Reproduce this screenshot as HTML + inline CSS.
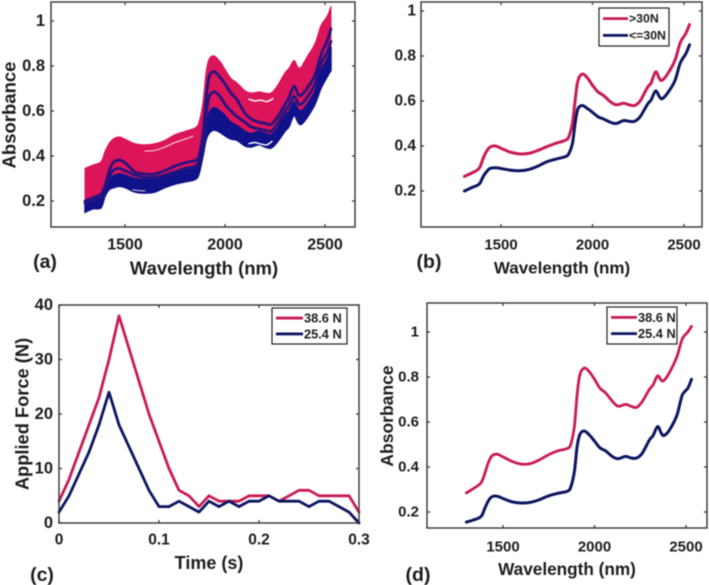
<!DOCTYPE html>
<html>
<head>
<meta charset="utf-8">
<style>
html,body{margin:0;padding:0;background:#fff;width:709px;height:585px;overflow:hidden}
svg{display:block;filter:blur(.5px)}
text{font-family:"Liberation Sans",sans-serif;font-weight:bold;fill:#1c1c1c}
</style>
</head>
<body>
<svg id="fig" xmlns="http://www.w3.org/2000/svg" width="709" height="585" viewBox="0 0 709 585"></svg>
<script>
const wavelengths=[1300,1340,1380,1400,1420,1440,1470,1500,1550,1600,1650,1700,1750,1800,1850,1870,1890,1905,1920,1945,1975,2000,2030,2060,2100,2130,2170,2200,2230,2260,2300,2320,2345,2365,2380,2410,2450,2480,2510,2530];
const bandTop=[.345,.36,.375,.42,.455,.475,.485,.475,.455,.45,.455,.47,.495,.51,.525,.55,.64,.77,.83,.845,.82,.785,.745,.725,.69,.68,.685,.68,.68,.71,.77,.79,.825,.795,.795,.84,.90,.98,1.02,1.065];
const bandMid=[.185,.20,.215,.25,.285,.31,.32,.315,.30,.295,.30,.31,.325,.34,.35,.37,.43,.53,.59,.615,.60,.58,.55,.535,.51,.50,.51,.50,.495,.52,.58,.60,.64,.61,.60,.63,.69,.78,.83,.885];
const bandBottom=[.15,.165,.17,.22,.25,.258,.265,.26,.24,.235,.24,.26,.275,.285,.295,.32,.40,.47,.50,.515,.505,.49,.475,.47,.445,.44,.45,.44,.435,.46,.51,.53,.58,.55,.54,.57,.63,.70,.75,.78];
const sampleHigh=[.2,.215,.23,.27,.33,.37,.382,.37,.33,.32,.32,.335,.355,.37,.38,.40,.50,.65,.75,.775,.75,.72,.68,.65,.59,.565,.55,.545,.54,.57,.63,.66,.71,.675,.67,.70,.76,.85,.91,.965];
const sampleMid=[.19,.205,.22,.255,.30,.335,.345,.335,.315,.305,.305,.315,.33,.345,.355,.38,.46,.58,.66,.685,.665,.63,.60,.575,.55,.53,.52,.515,.51,.54,.60,.625,.665,.635,.63,.66,.72,.81,.86,.91];
const gapWavelengthsA=[1600,1650,1700,1750,1800,1840];
const gapValuesA=[.422,.425,.44,.46,.475,.488];
const gapWavelengthsB=[2120,2150,2180,2210,2240];
const gapValuesB=[.652,.645,.648,.642,.655];
const gapWavelengthsC=[2120,2150,2180,2210,2235];
const gapValuesC=[.455,.46,.453,.45,.465];
const gapWavelengthsD=[1540,1570,1600];
const gapValuesD=[.25,.246,.245];
const meanHigh=[.265,.28,.30,.34,.375,.395,.40,.39,.373,.365,.367,.38,.397,.412,.425,.44,.50,.60,.69,.72,.70,.67,.64,.625,.595,.583,.59,.583,.58,.60,.66,.68,.73,.70,.692,.72,.78,.86,.90,.94];
const meanLow=[.20,.215,.23,.26,.285,.30,.303,.30,.293,.29,.295,.31,.33,.342,.352,.365,.41,.50,.565,.58,.565,.55,.53,.52,.505,.50,.513,.51,.51,.53,.585,.605,.645,.62,.61,.635,.69,.77,.81,.85];
const spectrumHigh=[.285,.305,.33,.37,.42,.45,.457,.445,.425,.413,.415,.432,.455,.472,.482,.50,.58,.72,.81,.84,.82,.79,.75,.73,.69,.67,.678,.67,.665,.69,.745,.765,.805,.785,.785,.82,.89,.97,1.0,1.025];
const spectrumLow=[.155,.165,.18,.215,.25,.268,.27,.26,.245,.24,.243,.255,.272,.283,.292,.31,.38,.49,.545,.56,.54,.515,.485,.472,.445,.437,.447,.44,.44,.46,.52,.54,.58,.55,.54,.565,.63,.72,.75,.79];
const times=[0,.01,.02,.03,.04,.05,.06,.07,.08,.09,.10,.11,.12,.13,.14,.15,.16,.17,.18,.19,.20,.21,.22,.23,.24,.25,.26,.27,.28,.29,.30];
const forceHigh=[4,8,13,18,23,30,38,32,26,20,15,10,6,5,3,5,4,4,4,5,5,5,4,5,6,6,5,5,5,5,2];
const forceLow=[2,5,9,13,18,24,18,14,10,6,3,3,4,3,2,4,3,4,3,4,4,5,4,4,4,3,4,4,3,2,0];
const wavelengthTicks=[1500,2000,2500];
const absorbanceTicksA=[0.2,0.4,0.6,0.8,1];
const timeTicks=[0,0.1,0.2,0.3];
const forceTicks=[0,10,20,30,40];
const legendB=[">30N","<=30N"];
const legendCD=["38.6 N","25.4 N"];

const PINK='#c91a55',NAVY='#0c1560',RED='#dc1459',BLUE='#10128a';
const NS='http://www.w3.org/2000/svg';
const fig=document.getElementById('fig');
function el(tag,attrs,parent,txt){
  const e=document.createElementNS(NS,tag);
  for(const k in attrs)e.setAttribute(k,attrs[k]);
  if(txt!==undefined)e.textContent=txt;
  (parent||fig).appendChild(e);
  return e;
}
function linear(d0,d1,r0,r1){return v=>r0+(v-d0)*(r1-r0)/(d1-d0);}
function pathOf(xs,ys,X,Y){return xs.map((x,i)=>(i?'L':'M')+X(x).toFixed(1)+' '+Y(ys[i]).toFixed(1)).join('');}
function curveTo(pts){
  let d='';
  for(let i=0;i<pts.length-1;i++){
    const p0=pts[Math.max(i-1,0)],p1=pts[i],p2=pts[i+1],p3=pts[Math.min(i+2,pts.length-1)];
    const c1x=p1[0]+(p2[0]-p0[0])/6,c1y=p1[1]+(p2[1]-p0[1])/6;
    const c2x=p2[0]-(p3[0]-p1[0])/6,c2y=p2[1]-(p3[1]-p1[1])/6;
    d+=`C${c1x.toFixed(1)} ${c1y.toFixed(1)} ${c2x.toFixed(1)} ${c2y.toFixed(1)} ${p2[0].toFixed(1)} ${p2[1].toFixed(1)}`;
  }
  return d;
}
function smoothOf(xs,ys,X,Y){
  const pts=xs.map((x,i)=>[X(x),Y(ys[i])]);
  return 'M'+pts[0][0].toFixed(1)+' '+pts[0][1].toFixed(1)+curveTo(pts);
}
function bandOf(xs,top,bot,X,Y){
  const upper=xs.map((x,i)=>[X(x),Y(top[i])]);
  const lower=xs.map((x,i)=>[X(x),Y(bot[i])]).reverse();
  return 'M'+upper[0][0].toFixed(1)+' '+upper[0][1].toFixed(1)+curveTo(upper)+'L'+lower[0][0].toFixed(1)+' '+lower[0][1].toFixed(1)+curveTo(lower)+'Z';
}
function axes(g,b,X,Y,xt,yt,xfs,yfs,xLabY,yLabRight){
  const frame=el('rect',{x:b.l,y:b.t,width:b.r-b.l,height:b.b-b.t,fill:'none',stroke:'#333','stroke-width':1.4},g);
  
  
  xt.forEach(v=>{
    const x=X(v);
    el('path',{d:`M${x} ${b.b}v-3M${x} ${b.t}v3`,stroke:'#333','stroke-width':1.2},g);
    const t=el('text',{x:x,y:xLabY,'text-anchor':'middle','font-size':xfs,'dominant-baseline':'central'},g,String(v));
    
    
  });
  yt.forEach(v=>{
    const y=Y(v);
    el('path',{d:`M${b.l} ${y}h3M${b.r} ${y}h-3`,stroke:'#333','stroke-width':1.2},g);
    const t=el('text',{x:yLabRight,y:y,'text-anchor':'end','font-size':yfs,'dominant-baseline':'central'},g,String(v));
    
    
  });
}
function label(g,s,x,y,fs,rot,name){
  const t=el('text',{x:x,y:y,'text-anchor':'middle','font-size':fs,'dominant-baseline':'central'},g,s);
  if(rot)t.setAttribute('transform',`rotate(-90 ${x} ${y})`);
  
  
}
function legend(g,box,names,lineEnd,fs){
  const lg=el('g',{},g);
  
  
  el('rect',{x:box.x,y:box.y,width:box.w,height:box.h,fill:'#fff',stroke:'#222','stroke-width':1.2},lg);
  [PINK,NAVY].forEach((c,i)=>{
    const y=box.y+box.h*(i?0.72:0.28);
    el('line',{x1:box.x+4,x2:lineEnd,y1:y,y2:y,stroke:c,'stroke-width':2.8},lg);
    const t=el('text',{x:lineEnd+1,y:y,'font-size':fs,'dominant-baseline':'central'},lg,names[i]);
    
    
  });
}
function series(g,xs,ys,X,Y,c,w,name,smooth){
  const p=el('path',{d:smooth?smoothOf(xs,ys,X,Y):pathOf(xs,ys,X,Y),fill:'none',stroke:c,'stroke-width':w,'stroke-linejoin':'round','stroke-linecap':'round'},g);
  
  
}

/* panel a */
{
  const g=el('g',{});
  
  
  const b={l:51,r:355,t:2,b:227};
  const X=linear(1500,2500,125,325),Y=linear(0.2,1,201,21);
  const r=el('path',{d:bandOf(wavelengths,bandTop,bandMid,X,Y),fill:RED,stroke:RED,'stroke-width':1},g);
  
  
  const u=el('path',{d:bandOf(wavelengths,bandMid,bandBottom,X,Y),fill:BLUE,stroke:BLUE,'stroke-width':1.5},g);
  
  
  series(g,wavelengths,sampleHigh,X,Y,'#27137f',2.8,'spectrum-line-high',true);
  series(g,wavelengths,sampleMid,X,Y,'#27137f',2.8,'spectrum-line-mid',true);
  series(g,gapWavelengthsA,gapValuesA,X,Y,'#f6dfe6',1,'spectrum-gap-upper-left',true);
  series(g,gapWavelengthsB,gapValuesB,X,Y,'#fff',1.4,'spectrum-gap-upper-right',true);
  series(g,gapWavelengthsC,gapValuesC,X,Y,'#fff',1.4,'spectrum-gap-lower-right',true);
  series(g,gapWavelengthsD,gapValuesD,X,Y,'#fff',.8,'spectrum-gap-lower-left',true);
  axes(g,b,X,Y,wavelengthTicks,absorbanceTicksA,16,16.5,245,45);
  label(g,'Absorbance',9,115,18.5,true,'y-axis-title');
  label(g,'Wavelength (nm)',204,268,18.5,false,'x-axis-title');
  label(g,'(a)',45,262,19.5,false,'panel-label');
}
/* panel b */
{
  const g=el('g',{});
  
  
  const b={l:421,r:702,t:2,b:227};
  const X=linear(1500,2500,501,684),Y=linear(0.2,1,191,11);
  series(g,wavelengths,meanHigh,X,Y,PINK,3,'line-above-30n',true);
  series(g,wavelengths,meanLow,X,Y,NAVY,3,'line-below-30n',true);
  axes(g,b,X,Y,wavelengthTicks,absorbanceTicksA,15,15.5,245,416);
  label(g,'Wavelength (nm)',562,268,17,false,'x-axis-title');
  label(g,'(b)',429,262,19.5,false,'panel-label');
  legend(g,{x:599,y:8,w:70,h:38},legendB,628,12.3);
}
/* panel c */
{
  const g=el('g',{});
  
  
  const b={l:59,r:359,t:305,b:523};
  const X=linear(0,0.3,59,359),Y=linear(0,40,523,305);
  series(g,times,forceHigh,X,Y,PINK,2.8,'line-38-6-n',false);
  series(g,times,forceLow,X,Y,NAVY,2.8,'line-25-4-n',false);
  axes(g,b,X,Y,timeTicks,forceTicks,15.5,16.5,540,53);
  label(g,'Applied Force (N)',22,414,18.3,true,'y-axis-title');
  label(g,'Time (s)',209,563,18,false,'x-axis-title');
  label(g,'(c)',42,575,19.5,false,'panel-label');
  legend(g,{x:272,y:308,w:75,h:36},legendCD,303,12.8);
}
/* panel d */
{
  const g=el('g',{});
  
  
  const b={l:427,r:707,t:303,b:528};
  const X=linear(1500,2500,503,686),Y=linear(0.2,1,512,332);
  series(g,wavelengths,spectrumHigh,X,Y,PINK,2.8,'line-38-6-n',true);
  series(g,wavelengths,spectrumLow,X,Y,NAVY,3,'line-25-4-n',true);
  axes(g,b,X,Y,wavelengthTicks,absorbanceTicksA,15,15,547,419);
  label(g,'Absorbance',387,416,17.5,true,'y-axis-title');
  label(g,'Wavelength (nm)',567,569,17.2,false,'x-axis-title');
  label(g,'(d)',418,575,19.5,false,'panel-label');
  legend(g,{x:607,y:307,w:70,h:37},legendCD,637,12.8);
}
</script>
</body>
</html>
